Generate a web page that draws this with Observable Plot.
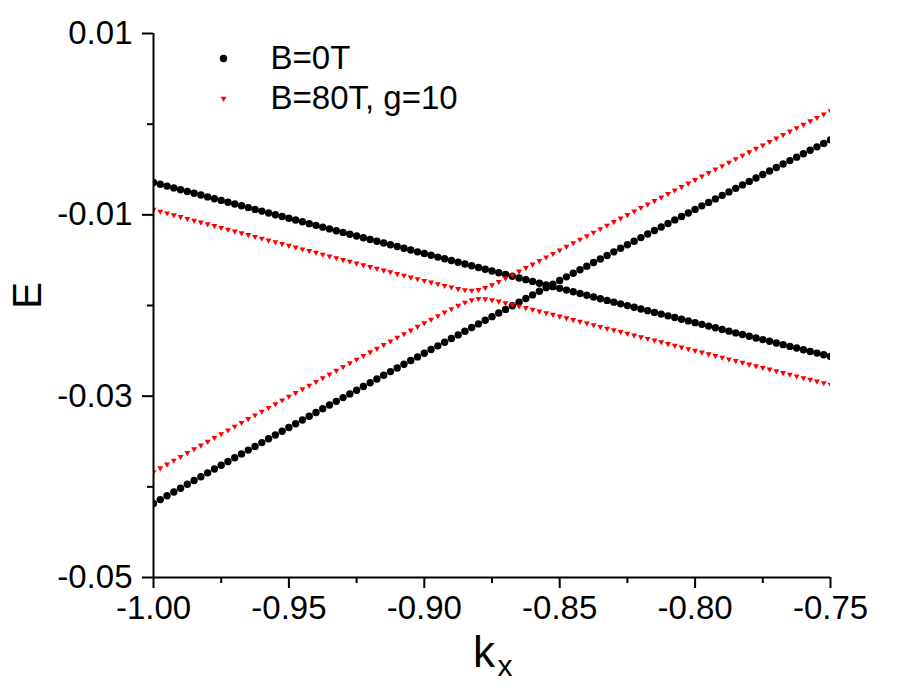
<!DOCTYPE html>
<html>
<head>
<meta charset="utf-8">
<script src="https://cdn.jsdelivr.net/npm/d3@7"></script>
<script src="https://cdn.jsdelivr.net/npm/@observablehq/plot@0.6"></script>
<style>
  html, body { margin: 0; padding: 0; background: #ffffff; }
  #chart svg { display: block; }
</style>
</head>
<body>
<div id="chart"></div>
<script>
// Wave-vector samples k_x shared by every band
const kx = [
  -1.0000, -0.9975, -0.9950, -0.9925, -0.9900, -0.9875, -0.9850, -0.9825, -0.9800, -0.9775,
  -0.9750, -0.9725, -0.9700, -0.9675, -0.9650, -0.9625, -0.9600, -0.9575, -0.9550, -0.9525,
  -0.9500, -0.9475, -0.9450, -0.9425, -0.9400, -0.9375, -0.9350, -0.9325, -0.9300, -0.9275,
  -0.9250, -0.9225, -0.9200, -0.9175, -0.9150, -0.9125, -0.9100, -0.9075, -0.9050, -0.9025,
  -0.9000, -0.8975, -0.8950, -0.8925, -0.8900, -0.8875, -0.8850, -0.8825, -0.8800, -0.8775,
  -0.8750, -0.8725, -0.8700, -0.8675, -0.8650, -0.8625, -0.8600, -0.8575, -0.8550, -0.8525,
  -0.8500, -0.8475, -0.8450, -0.8425, -0.8400, -0.8375, -0.8350, -0.8325, -0.8300, -0.8275,
  -0.8250, -0.8225, -0.8200, -0.8175, -0.8150, -0.8125, -0.8100, -0.8075, -0.8050, -0.8025,
  -0.8000, -0.7975, -0.7950, -0.7925, -0.7900, -0.7875, -0.7850, -0.7825, -0.7800, -0.7775,
  -0.7750, -0.7725, -0.7700, -0.7675, -0.7650, -0.7625, -0.7600, -0.7575, -0.7550, -0.7525,
  -0.7500
];

// B = 0 T: band falling with k_x
const b0Falling = [
  -0.00643, -0.00663, -0.00683, -0.00703, -0.00723, -0.00742, -0.00762, -0.00782, -0.00802, -0.00822,
  -0.00841, -0.00861, -0.00881, -0.00900, -0.00920, -0.00940, -0.00959, -0.00979, -0.00999, -0.01018,
  -0.01038, -0.01057, -0.01077, -0.01097, -0.01116, -0.01136, -0.01155, -0.01175, -0.01194, -0.01214,
  -0.01233, -0.01253, -0.01272, -0.01291, -0.01311, -0.01330, -0.01350, -0.01369, -0.01388, -0.01408,
  -0.01427, -0.01446, -0.01466, -0.01485, -0.01504, -0.01523, -0.01543, -0.01562, -0.01581, -0.01600,
  -0.01620, -0.01639, -0.01658, -0.01677, -0.01696, -0.01715, -0.01734, -0.01754, -0.01773, -0.01792,
  -0.01811, -0.01830, -0.01849, -0.01868, -0.01887, -0.01906, -0.01925, -0.01944, -0.01963, -0.01982,
  -0.02001, -0.02020, -0.02038, -0.02057, -0.02076, -0.02095, -0.02114, -0.02133, -0.02152, -0.02170,
  -0.02189, -0.02208, -0.02227, -0.02245, -0.02264, -0.02283, -0.02302, -0.02320, -0.02339, -0.02358,
  -0.02376, -0.02395, -0.02414, -0.02432, -0.02451, -0.02469, -0.02488, -0.02507, -0.02525, -0.02544,
  -0.02562
];

// B = 0 T: band rising with k_x
const b0Rising = [
  -0.04184, -0.04141, -0.04099, -0.04057, -0.04015, -0.03972, -0.03930, -0.03888, -0.03846, -0.03804,
  -0.03762, -0.03721, -0.03679, -0.03637, -0.03595, -0.03554, -0.03512, -0.03470, -0.03429, -0.03387,
  -0.03346, -0.03304, -0.03263, -0.03222, -0.03180, -0.03139, -0.03098, -0.03057, -0.03016, -0.02975,
  -0.02934, -0.02893, -0.02852, -0.02811, -0.02770, -0.02729, -0.02689, -0.02648, -0.02607, -0.02567,
  -0.02526, -0.02485, -0.02445, -0.02405, -0.02364, -0.02324, -0.02284, -0.02243, -0.02203, -0.02163,
  -0.02123, -0.02083, -0.02043, -0.02003, -0.01963, -0.01923, -0.01883, -0.01843, -0.01803, -0.01764,
  -0.01724, -0.01684, -0.01645, -0.01605, -0.01566, -0.01526, -0.01487, -0.01448, -0.01408, -0.01369,
  -0.01330, -0.01291, -0.01251, -0.01212, -0.01173, -0.01134, -0.01095, -0.01056, -0.01018, -0.00979,
  -0.00940, -0.00901, -0.00863, -0.00824, -0.00785, -0.00747, -0.00708, -0.00670, -0.00631, -0.00593,
  -0.00555, -0.00516, -0.00478, -0.00440, -0.00402, -0.00364, -0.00326, -0.00288, -0.00250, -0.00212,
  -0.00174
];

// B = 80 T, g = 10: upper branch of the anticrossing
const b80Upper = [
  -0.00942, -0.00962, -0.00982, -0.01002, -0.01022, -0.01042, -0.01062, -0.01082, -0.01101, -0.01121,
  -0.01141, -0.01161, -0.01181, -0.01201, -0.01220, -0.01240, -0.01260, -0.01280, -0.01299, -0.01319,
  -0.01339, -0.01358, -0.01378, -0.01397, -0.01416, -0.01436, -0.01456, -0.01475, -0.01495, -0.01514,
  -0.01534, -0.01553, -0.01573, -0.01591, -0.01611, -0.01630, -0.01650, -0.01668, -0.01688, -0.01707,
  -0.01726, -0.01744, -0.01762, -0.01781, -0.01798, -0.01815, -0.01828, -0.01834, -0.01827, -0.01805,
  -0.01773, -0.01737, -0.01699, -0.01662, -0.01623, -0.01584, -0.01545, -0.01506, -0.01467, -0.01428,
  -0.01389, -0.01350, -0.01310, -0.01271, -0.01233, -0.01194, -0.01155, -0.01116, -0.01077, -0.01038,
  -0.00999, -0.00960, -0.00921, -0.00883, -0.00845, -0.00806, -0.00767, -0.00729, -0.00690, -0.00652,
  -0.00613, -0.00575, -0.00536, -0.00498, -0.00460, -0.00421, -0.00383, -0.00345, -0.00307, -0.00269,
  -0.00231, -0.00193, -0.00155, -0.00117, -0.00079, -0.00041, -0.00004, 0.00034, 0.00072, 0.00109,
  0.00147
];

// B = 80 T, g = 10: lower branch of the anticrossing
const b80Lower = [
  -0.03835, -0.03792, -0.03751, -0.03709, -0.03667, -0.03625, -0.03583, -0.03541, -0.03500, -0.03458,
  -0.03416, -0.03375, -0.03333, -0.03292, -0.03250, -0.03209, -0.03168, -0.03126, -0.03085, -0.03044,
  -0.03003, -0.02962, -0.02921, -0.02881, -0.02840, -0.02799, -0.02758, -0.02717, -0.02676, -0.02635,
  -0.02595, -0.02554, -0.02513, -0.02474, -0.02433, -0.02393, -0.02352, -0.02313, -0.02273, -0.02232,
  -0.02193, -0.02154, -0.02115, -0.02075, -0.02037, -0.02000, -0.01966, -0.01939, -0.01925, -0.01928,
  -0.01939, -0.01954, -0.01972, -0.01989, -0.02007, -0.02025, -0.02045, -0.02063, -0.02082, -0.02100,
  -0.02119, -0.02138, -0.02157, -0.02177, -0.02195, -0.02214, -0.02233, -0.02252, -0.02271, -0.02290,
  -0.02309, -0.02328, -0.02347, -0.02365, -0.02384, -0.02403, -0.02422, -0.02441, -0.02460, -0.02478,
  -0.02497, -0.02516, -0.02535, -0.02554, -0.02573, -0.02592, -0.02610, -0.02629, -0.02648, -0.02667,
  -0.02685, -0.02704, -0.02723, -0.02742, -0.02760, -0.02779, -0.02798, -0.02816, -0.02835, -0.02854,
  -0.02872
];

const seriesLabels = ["B=0T", "B=80T, g=10"];
const xTicks = [-1.00, -0.95, -0.90, -0.85, -0.80, -0.75];
const xMinorTicks = [-0.975, -0.925, -0.875, -0.825, -0.775];
const yTicks = [0.01, -0.01, -0.03, -0.05];
const yMinorTicks = [0.00, -0.02, -0.04];

// Long-format tables for the two field values
const zeroField = kx.flatMap((k, i) => [{k, E: b0Falling[i]}, {k, E: b0Rising[i]}]);
const highField = kx.flatMap((k, i) => [{k, E: b80Upper[i]}, {k, E: b80Lower[i]}]);

const font = "'Liberation Sans', Arial, Helvetica, sans-serif";
const fmt = d => d.toFixed(2);
const blank = () => "";

const chart = Plot.plot({
  width: 908,
  height: 695,
  marginLeft: 153,
  marginRight: 78,
  marginTop: 33,
  marginBottom: 118,
  style: {fontFamily: font, fontSize: "33px", background: "#ffffff", color: "#000000", overflow: "visible"},
  x: {domain: [-1, -0.75], label: null},
  y: {domain: [-0.05, 0.01], label: null},
  marks: [
    // data
    Plot.dot(zeroField, {x: "k", y: "E", r: 3.7, fill: "#000000", clip: true}),
    Plot.dot(highField, {x: "k", y: "E", r: 2.2, fill: "#ff0000", symbol: "triangle", rotate: 180, clip: true}),

    // axes: minor and major ticks, left and bottom spines
    Plot.axisX(xMinorTicks, {tickSize: 6, strokeWidth: 2, tickFormat: blank, label: null}),
    Plot.axisX(xTicks, {tickSize: 11, strokeWidth: 2, tickPadding: 7, tickFormat: fmt, fontSize: 33, label: null}),
    Plot.axisY(yMinorTicks, {tickSize: 6, strokeWidth: 2, tickFormat: blank, label: null}),
    Plot.axisY(yTicks, {tickSize: 11, strokeWidth: 2, tickPadding: 10, tickFormat: fmt, fontSize: 33, label: null}),
    Plot.ruleX([-1], {strokeWidth: 2}),
    Plot.ruleY([-0.05], {strokeWidth: 2}),

    // axis titles
    Plot.text(["E"], {frameAnchor: "left", dx: -125, dy: -10, rotate: -90, fontSize: 40,
      textAnchor: "middle", lineAnchor: "middle"}),
    Plot.text(["k"], {frameAnchor: "bottom", dx: -8, dy: 89, fontSize: 44,
      textAnchor: "middle", lineAnchor: "bottom"}),
    Plot.text(["x"], {frameAnchor: "bottom", dx: 13, dy: 98, fontSize: 30,
      textAnchor: "middle", lineAnchor: "bottom"}),

    // legend
    Plot.dot([seriesLabels[0]], {frameAnchor: "top-left", dx: 70, dy: 25, r: 3.7, fill: "#000000"}),
    Plot.dot([seriesLabels[1]], {frameAnchor: "top-left", dx: 70, dy: 65, r: 2.2, fill: "#ff0000",
      symbol: "triangle", rotate: 180}),
    Plot.text([seriesLabels[0]], {frameAnchor: "top-left", dx: 117, dy: 25, fontSize: 33,
      textAnchor: "start", lineAnchor: "middle"}),
    Plot.text([seriesLabels[1]], {frameAnchor: "top-left", dx: 117, dy: 65, fontSize: 33,
      textAnchor: "start", lineAnchor: "middle"})
  ]
});

document.getElementById("chart").appendChild(chart);
</script>
</body>
</html>
